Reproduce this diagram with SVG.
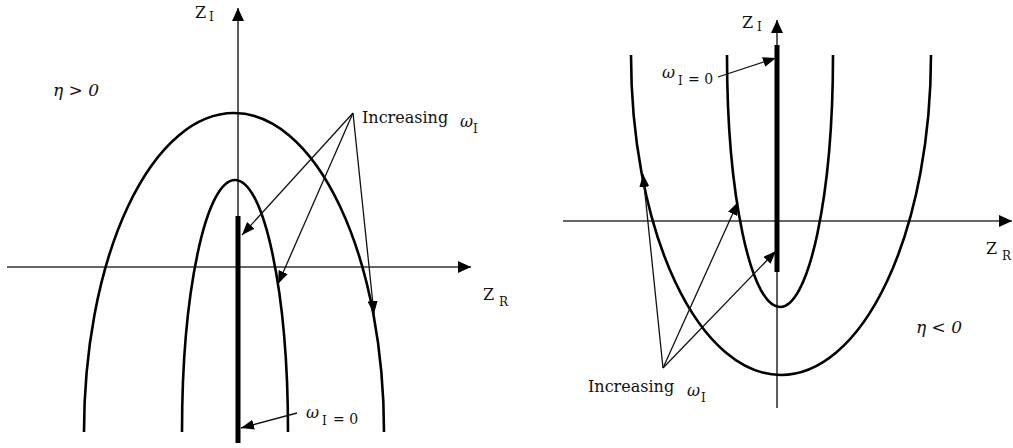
<svg xmlns="http://www.w3.org/2000/svg" width="1013" height="448" viewBox="0 0 1013 448">
<style>
.axis{stroke:#333;stroke-width:1.6;fill:none}
.curve{stroke:#000;stroke-width:2.6;fill:none}
.bar{stroke:#000;stroke-width:5;fill:none}
.ptr{stroke:#111;stroke-width:1.3;fill:none}
.t{font-family:'DejaVu Serif','Liberation Serif',serif;fill:#111}
.lab{font-size:16px}
.sub{font-size:12px}
.z{font-size:16px}
.eta{font-size:17px;font-style:italic}
.om{font-size:16px;font-style:italic}
.eq{font-size:14px}
</style>
<defs>
<marker id="ah" markerUnits="userSpaceOnUse" markerWidth="14" markerHeight="10" refX="13" refY="5" orient="auto">
<path d="M0,0 L13,5 L0,10 Z" fill="#000"/>
</marker>
<marker id="axh" markerUnits="userSpaceOnUse" markerWidth="14" markerHeight="12" refX="13" refY="6" orient="auto">
<path d="M0,0 L13,6 L0,12 Z" fill="#000"/>
</marker>
</defs>

<g id="left-panel">
<g id="left-axes">
<line class="axis" x1="238" y1="440" x2="238" y2="8" marker-end="url(#axh)"/>
<line class="axis" x1="7" y1="267" x2="471" y2="267" marker-end="url(#axh)"/>
</g>
<g id="left-curves">
<path class="curve" d="M84 432 A150 319 0 0 1 384 432"/>
<path class="curve" d="M182 432 A53 252 0 0 1 288 432"/>
<line class="bar" x1="238" y1="216" x2="238" y2="443"/>
</g>
<g id="left-labels">
<text class="t z" x="195" y="18">Z</text><text class="t sub" x="209" y="21">I</text>
<text class="t z" x="483" y="300">Z</text><text class="t sub" x="499" y="306">R</text>
<text class="t eta" x="53" y="96">η &gt; 0</text>
<text class="t lab" x="362" y="123">Increasing</text><text class="t om" x="460" y="127">ω</text><text class="t sub" x="473" y="133">I</text>
<text class="t om" x="306" y="418">ω</text><text class="t sub" x="322" y="425">I</text><text class="t eq" x="333" y="424">= 0</text>
</g>
</g>

<g id="right-panel">
<g id="right-axes">
<line class="axis" x1="777" y1="408" x2="777" y2="20" marker-end="url(#axh)"/>
<line class="axis" x1="563" y1="221" x2="1012" y2="221" marker-end="url(#axh)"/>
</g>
<g id="right-curves">
<path class="curve" d="M631 55 A150 320 0 0 0 931 55"/>
<path class="curve" d="M727 55 A53 252 0 0 0 833 55"/>
<line class="bar" x1="777" y1="45" x2="777" y2="272"/>
</g>
<g id="right-labels">
<text class="t z" x="742" y="28">Z</text><text class="t sub" x="757" y="31">I</text>
<text class="t z" x="986" y="254">Z</text><text class="t sub" x="1002" y="260">R</text>
<text class="t eta" x="916" y="333">η &lt; 0</text>
<text class="t lab" x="588" y="392">Increasing</text><text class="t om" x="687" y="396">ω</text><text class="t sub" x="701" y="402">I</text>
<text class="t om" x="662" y="78">ω</text><text class="t sub" x="678" y="85">I</text><text class="t eq" x="688" y="84">= 0</text>
</g>
</g>

<g id="connectors">
<line class="ptr" x1="353" y1="113" x2="242" y2="235" marker-end="url(#ah)"/>
<line class="ptr" x1="353" y1="113" x2="278" y2="284" marker-end="url(#ah)"/>
<line class="ptr" x1="353" y1="113" x2="374" y2="314" marker-end="url(#ah)"/>
<line class="ptr" x1="297" y1="413" x2="241" y2="428" marker-end="url(#ah)"/>
<line class="ptr" x1="663" y1="368" x2="643" y2="174" marker-end="url(#ah)"/>
<line class="ptr" x1="663" y1="368" x2="738" y2="202" marker-end="url(#ah)"/>
<line class="ptr" x1="663" y1="368" x2="776" y2="251" marker-end="url(#ah)"/>
<line class="ptr" x1="718" y1="77" x2="776" y2="58" marker-end="url(#ah)"/>
</g>
</svg>
